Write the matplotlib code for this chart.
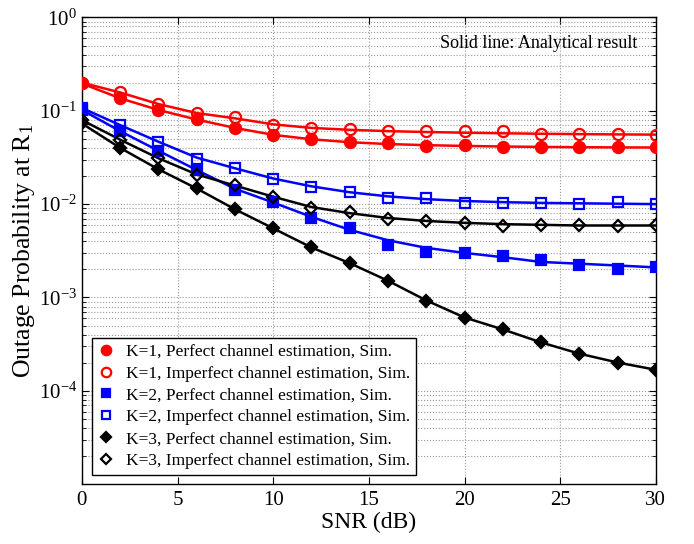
import numpy as np
import matplotlib
matplotlib.use("Agg")
import matplotlib.pyplot as plt
from matplotlib.ticker import FixedLocator, LogLocator, LogFormatterMathtext, NullFormatter

plt.rcParams['font.family'] = ['Liberation Serif', 'DejaVu Serif']
plt.rcParams['mathtext.fontset'] = 'custom'
plt.rcParams['mathtext.rm'] = 'Liberation Serif'
plt.rcParams['mathtext.it'] = 'Liberation Serif:italic'

# SNR grid in dB
snr = np.arange(0, 31, 2)

# analytical curves
k1_perf_ana = [0.196, 0.136, 0.102, 0.0805, 0.0655, 0.0552, 0.0495, 0.0460, 0.0440, 0.0428,
               0.0420, 0.0414, 0.0410, 0.0407, 0.0405, 0.0404]
k1_imp_ana = [0.200, 0.157, 0.118, 0.0945, 0.0830, 0.0715, 0.0655, 0.0625, 0.0605, 0.0592,
              0.0582, 0.0574, 0.0567, 0.0562, 0.0558, 0.0555]
k2_perf_ana = [0.102, 0.0605, 0.0373, 0.0232, 0.0146, 0.0104, 0.0073, 0.0053, 0.0041, 0.0034,
               0.0030, 0.0027, 0.0024, 0.0023, 0.0022, 0.0021]
k2_imp_ana = [0.107, 0.0702, 0.0466, 0.0315, 0.0242, 0.0188, 0.0155, 0.0134, 0.0121, 0.0113,
              0.0108, 0.0105, 0.0103, 0.0102, 0.0101, 0.0100]
k3_perf_ana = [0.0731, 0.0400, 0.0236, 0.0147, 0.0088, 0.0055, 0.00343, 0.00233, 0.00151,
               0.00093, 0.00061, 0.000455, 0.000330, 0.000250, 0.000201, 0.000168]
k3_imp_ana = [0.0794, 0.0490, 0.0310, 0.0208, 0.0158, 0.0120, 0.0093, 0.0080, 0.0071, 0.0066,
              0.0063, 0.0061, 0.0060, 0.0059, 0.0059, 0.0059]

# simulation points
k1_perf_sim = [0.196, 0.136, 0.102, 0.0807, 0.0650, 0.0550, 0.0497, 0.0458, 0.0451, 0.0422,
               0.0429, 0.0405, 0.0405, 0.0405, 0.0405, 0.0413]
k1_imp_sim = [0.200, 0.160, 0.117, 0.0936, 0.0849, 0.0710, 0.0647, 0.0637, 0.0611, 0.0605,
              0.0600, 0.0600, 0.0562, 0.0565, 0.0562, 0.0550]
k2_perf_sim = [0.102, 0.0605, 0.0373, 0.0232, 0.0143, 0.0106, 0.00708, 0.00548, 0.00364, 0.00308,
               0.00298, 0.00275, 0.00253, 0.00224, 0.00201, 0.00213]
k2_imp_sim = [0.107, 0.0702, 0.0466, 0.0308, 0.0245, 0.0188, 0.0154, 0.0136, 0.0116, 0.0117,
              0.0104, 0.0104, 0.0104, 0.0100, 0.0106, 0.0100]
k3_perf_sim = [0.0731, 0.0400, 0.0236, 0.0147, 0.0088, 0.0055, 0.00343, 0.00233, 0.00151,
               0.00092, 0.00060, 0.000458, 0.000330, 0.000249, 0.000201, 0.000168]
k3_imp_sim = [0.0794, 0.0490, 0.0310, 0.0207, 0.0160, 0.0120, 0.0090, 0.00815, 0.0069, 0.0066,
              0.00625, 0.00586, 0.00596, 0.00596, 0.00577, 0.00596]

labels = ['K=1, Perfect channel estimation, Sim.',
          'K=1, Imperfect channel estimation, Sim.',
          'K=2, Perfect channel estimation, Sim.',
          'K=2, Imperfect channel estimation, Sim.',
          'K=3, Perfect channel estimation, Sim.',
          'K=3, Imperfect channel estimation, Sim.']

series = [
    (k1_perf_ana, k1_perf_sim, 'red', 'o', True, 8),
    (k1_imp_ana, k1_imp_sim, 'red', 'o', False, 8),
    (k2_perf_ana, k2_perf_sim, 'blue', 's', True, 6.5),
    (k2_imp_ana, k2_imp_sim, 'blue', 's', False, 6.5),
    (k3_perf_ana, k3_perf_sim, 'black', 'D', True, 6.5),
    (k3_imp_ana, k3_imp_sim, 'black', 'D', False, 6.5),
]

fig = plt.figure(figsize=(6.94, 5.44), dpi=100)
ax = fig.add_axes([0.118, 0.110, 0.827, 0.858])

handles = []
for (ana, sim, col, mk, filled, ms), lab in zip(series, labels):
    ax.plot(snr, ana, '-', color=col, lw=1.8, zorder=3)
    h, = ax.plot(snr, sim, linestyle='none', marker=mk, markersize=ms,
                 markeredgewidth=1.6, color=col,
                 markerfacecolor=col if filled else 'none', zorder=4, label=lab)
    handles.append(h)

ax.set_yscale('log')
ax.set_xlim(0, 30)
ax.set_ylim(1e-5, 1)
ax.set_xticks(np.arange(0, 31, 5))
ax.yaxis.set_major_locator(FixedLocator([1e-4, 1e-3, 1e-2, 1e-1, 1]))
ax.yaxis.set_major_formatter(LogFormatterMathtext())
ax.yaxis.set_minor_locator(LogLocator(base=10, subs=np.arange(2, 10), numticks=20))
ax.yaxis.set_minor_formatter(NullFormatter())

ax.tick_params(which='both', direction='in', top=True, right=True, labelsize=15)
ax.tick_params(axis='x', pad=5)
ax.tick_params(which='major', length=5, width=0.8)
ax.tick_params(which='minor', length=3, width=0.6)
ax.grid(True, which='major', axis='x', linestyle=':', color='0.6', lw=0.8)
ax.grid(True, which='both', axis='y', linestyle=':', color='0.6', lw=0.8)
for sp in ax.spines.values():
    sp.set_linewidth(1.0)

ax.set_xlabel('SNR (dB)', fontsize=17, labelpad=1)
ax.set_ylabel(r'Outage Probability at R$_{\mathregular{1}}$', fontsize=18.5, labelpad=1)

ax.text(0.968, 0.944, 'Solid line: Analytical result', transform=ax.transAxes,
        ha='right', va='center', fontsize=13)

leg = ax.legend(handles=handles, loc='lower left', bbox_to_anchor=(0.017, 0.019),
                borderaxespad=0, fontsize=12.5, fancybox=False, framealpha=1,
                edgecolor='black', handlelength=1.0, handletextpad=0.6,
                labelspacing=0.33, borderpad=0.35, markerscale=0.85)
leg.get_frame().set_linewidth(1.0)

fig.savefig('out.png', dpi=100)
